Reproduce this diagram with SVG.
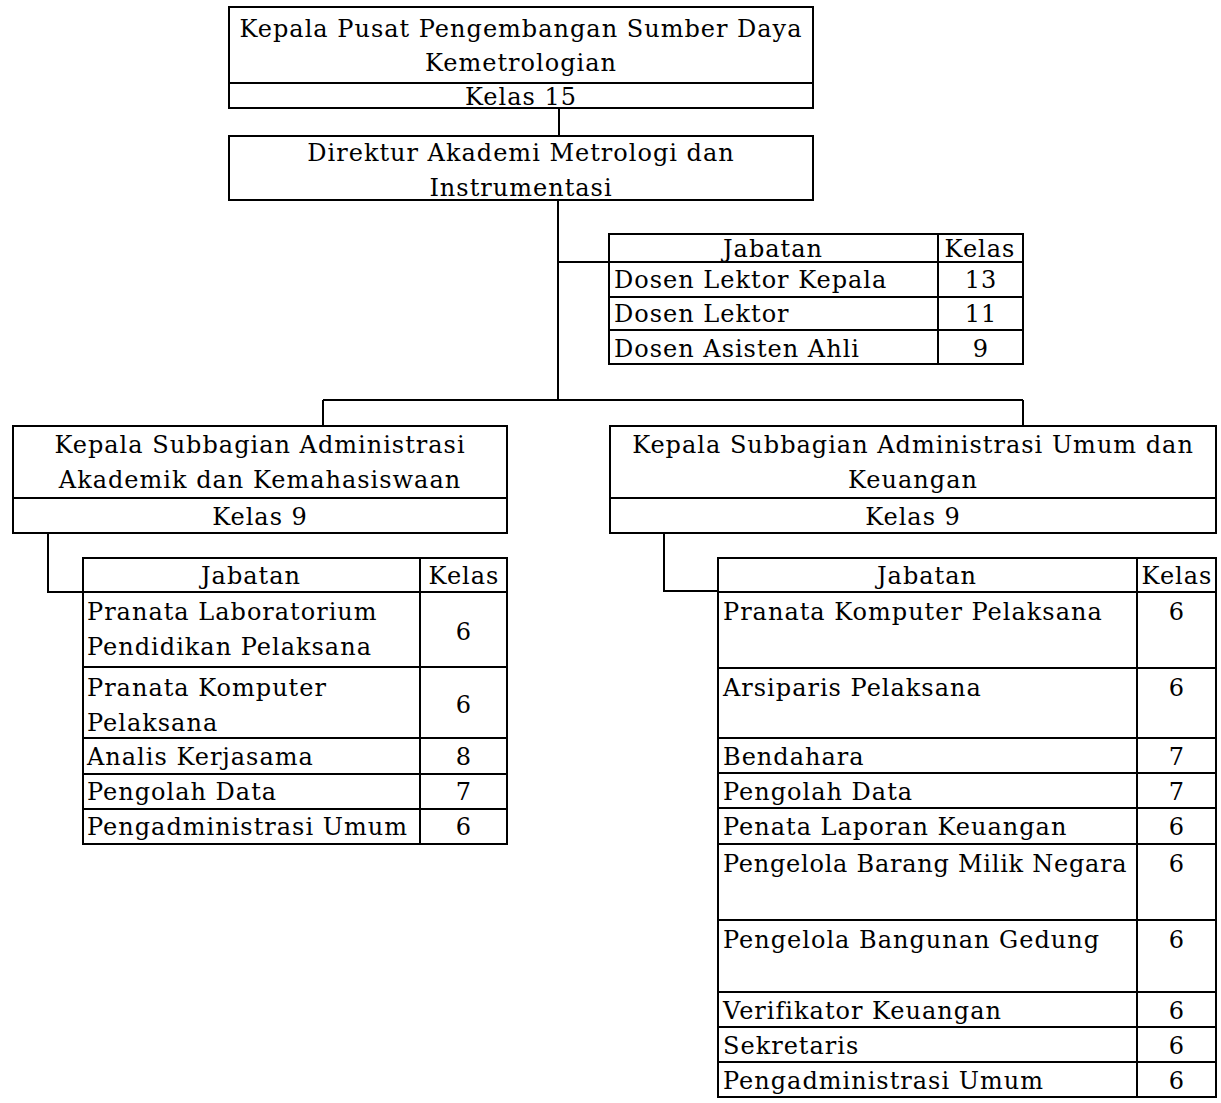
<svg xmlns="http://www.w3.org/2000/svg" width="1221" height="1103" viewBox="0 0 1221 1103">
<style>
  .box { fill: #ffffff; stroke: #000000; stroke-width: 2; }
  .ln { fill: none; stroke: #000000; stroke-width: 2; }
  text { font-family: "DejaVu Serif", "Liberation Serif", serif; font-size: 24px; letter-spacing: 1px; fill: #000000; }
  .c { text-anchor: middle; }
  .tight { letter-spacing: 0.75px; }
</style>
<rect x="0" y="0" width="1221" height="1103" fill="#ffffff"/>
<g id="connectors">
  <path class="ln" d="M559 108 V136"/>
  <path class="ln" d="M558 200 V400"/>
  <path class="ln" d="M558 262 H609"/>
  <path class="ln" d="M323 400 H1023"/>
  <path class="ln" d="M323 400 V426"/>
  <path class="ln" d="M1023 400 V426"/>
  <path class="ln" d="M48 533 V592 H83"/>
  <path class="ln" d="M664 533 V591 H718"/>
</g>
<g id="node-kepala-pusat">
  <rect class="box" x="229" y="7" width="584" height="101"/>
  <line class="ln" x1="229" y1="83" x2="813" y2="83"/>
  <text class="c" x="521" y="37">Kepala Pusat Pengembangan Sumber Daya</text>
  <text class="c" x="521" y="71">Kemetrologian</text>
  <text class="c" x="521" y="105">Kelas 15</text>
</g>
<g id="node-direktur">
  <rect class="box" x="229" y="136" width="584" height="64"/>
  <text class="c" x="521" y="161">Direktur Akademi Metrologi dan</text>
  <text class="c" x="521" y="196">Instrumentasi</text>
</g>
<g id="node-tabel-dosen">
  <rect class="box" x="609" y="234" width="414" height="130"/>
  <path class="ln" d="M938 234 V364 M609 262 H1023 M609 297 H1023 M609 330 H1023"/>
  <text class="c" x="773" y="257">Jabatan</text>
  <text class="c" x="980" y="257">Kelas</text>
  <text x="614" y="288">Dosen Lektor Kepala</text>
  <text class="c" x="981" y="288">13</text>
  <text x="614" y="322">Dosen Lektor</text>
  <text class="c" x="981" y="322">11</text>
  <text x="614" y="357">Dosen Asisten Ahli</text>
  <text class="c" x="981" y="357">9</text>
</g>
<g id="node-kasubag-akademik">
  <rect class="box" x="13" y="426" width="494" height="107"/>
  <line class="ln" x1="13" y1="498" x2="507" y2="498"/>
  <text class="c" x="260" y="453">Kepala Subbagian Administrasi</text>
  <text class="c" x="260" y="488">Akademik dan Kemahasiswaan</text>
  <text class="c" x="260" y="525">Kelas 9</text>
</g>
<g id="node-tabel-akademik">
  <rect class="box" x="83" y="558" width="424" height="286"/>
  <path class="ln" d="M420 558 V844 M83 592 H507 M83 667 H507 M83 738 H507 M83 774 H507 M83 809 H507"/>
  <text class="c" x="251" y="584">Jabatan</text>
  <text class="c" x="464" y="584">Kelas</text>
  <text x="87" y="620">Pranata Laboratorium</text>
  <text x="87" y="655">Pendidikan Pelaksana</text>
  <text class="c" x="464" y="640">6</text>
  <text x="87" y="696">Pranata Komputer</text>
  <text x="87" y="731">Pelaksana</text>
  <text class="c" x="464" y="713">6</text>
  <text x="87" y="765">Analis Kerjasama</text>
  <text class="c" x="464" y="765">8</text>
  <text x="87" y="800">Pengolah Data</text>
  <text class="c" x="464" y="800">7</text>
  <text x="87" y="835">Pengadministrasi Umum</text>
  <text class="c" x="464" y="835">6</text>
</g>
<g id="node-kasubag-umum">
  <rect class="box" x="610" y="426" width="606" height="107"/>
  <line class="ln" x1="610" y1="498" x2="1216" y2="498"/>
  <text class="c" x="913" y="453">Kepala Subbagian Administrasi Umum dan</text>
  <text class="c" x="913" y="488">Keuangan</text>
  <text class="c" x="913" y="525">Kelas 9</text>
</g>
<g id="node-tabel-umum">
  <rect class="box" x="718" y="558" width="498" height="539"/>
  <path class="ln" d="M1137 558 V1097 M718 592 H1216 M718 668 H1216 M718 738 H1216 M718 773 H1216 M718 808 H1216 M718 844 H1216 M718 920 H1216 M718 992 H1216 M718 1027 H1216 M718 1062 H1216"/>
  <text class="c" x="927" y="584">Jabatan</text>
  <text class="c" x="1177" y="584">Kelas</text>
  <text x="723" y="620">Pranata Komputer Pelaksana</text>
  <text class="c" x="1177" y="620">6</text>
  <text x="723" y="696">Arsiparis Pelaksana</text>
  <text class="c" x="1177" y="696">6</text>
  <text x="723" y="765">Bendahara</text>
  <text class="c" x="1177" y="765">7</text>
  <text x="723" y="800">Pengolah Data</text>
  <text class="c" x="1177" y="800">7</text>
  <text x="723" y="835">Penata Laporan Keuangan</text>
  <text class="c" x="1177" y="835">6</text>
  <text class="tight" x="723" y="872">Pengelola Barang Milik Negara</text>
  <text class="c" x="1177" y="872">6</text>
  <text x="723" y="948">Pengelola Bangunan Gedung</text>
  <text class="c" x="1177" y="948">6</text>
  <text x="723" y="1019">Verifikator Keuangan</text>
  <text class="c" x="1177" y="1019">6</text>
  <text x="723" y="1054">Sekretaris</text>
  <text class="c" x="1177" y="1054">6</text>
  <text x="723" y="1089">Pengadministrasi Umum</text>
  <text class="c" x="1177" y="1089">6</text>
</g>
</svg>
